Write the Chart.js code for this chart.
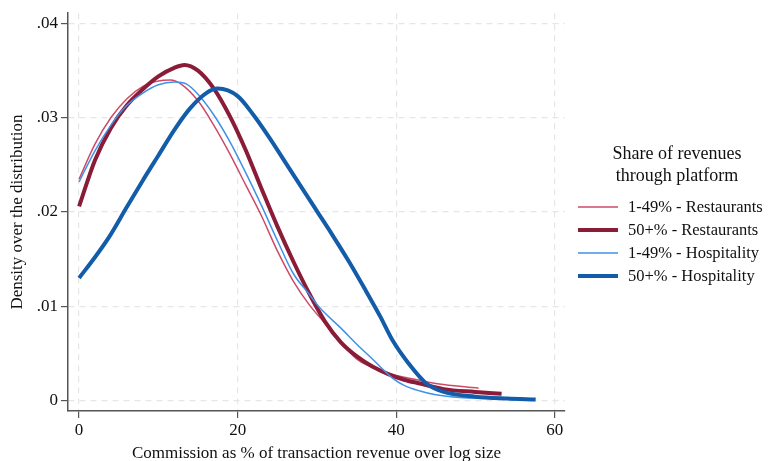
<!DOCTYPE html>
<html>
<head>
<meta charset="utf-8">
<script src="https://cdn.jsdelivr.net/npm/chart.js@4/dist/chart.umd.min.js"></script>
<style>
  html, body { margin: 0; padding: 0; background: #fff; }
  #wrap { width: 769px; height: 461px; }
</style>
</head>
<body>
<div id="wrap"><canvas id="chart" width="769" height="461"></canvas></div>
<script>
// tick labels
const xTicks = [0, 20, 40, 60];
const yTicks = [0, 0.01, 0.02, 0.03, 0.04];

// 1-49% - Restaurants
const restLowX = [0, 2, 4, 6, 8, 10, 11.5, 13, 15, 17, 19, 21, 23, 25, 27, 29, 31, 33, 35, 37, 39, 42, 45, 48, 50.4];
const restLowY = [.0235, .0272, .0300, .0320, .0333, .0339, .0340, .0335, .0318, .0292, .0262, .0229, .0196, .0159, .0127, .0102, .0082, .0062, .0044, .0035, .0029, .0023, .0018, .0015, .0013];

// 50+% - Restaurants
const restHighX = [0, 2, 4, 6, 8, 10, 12, 13.3, 15, 17, 19, 21, 23, 25, 27, 29, 31, 33, 35, 37, 39, 41, 43, 46, 50, 53.3];
const restHighY = [.0206, .0255, .0289, .0313, .0330, .0344, .0353, .0356, .0350, .0331, .0302, .0266, .0225, .0185, .0148, .0114, .0084, .0062, .0047, .0036, .0028, .0022, .0018, .0012, .0009, .0007];

// 1-49% - Hospitality
const hospLowX = [0, 2, 4, 6, 8, 10, 12, 13.5, 15, 17, 19, 21, 23, 25, 27, 29, 30.4, 33, 35, 37, 39.5, 41, 43, 45, 48, 52, 55];
const hospLowY = [.0232, .0265, .0292, .0313, .0326, .0335, .0338, .0336, .0325, .0303, .0275, .0242, .0207, .0170, .0135, .0113, .0098, .0077, .0060, .0044, .0024, .0016, .0010, .0006, .0003, .0002, .0001];

// 50+% - Hospitality
const hospHighX = [0, 2, 3.9, 6, 8, 10, 12, 14, 16, 17.5, 20, 22, 24, 26, 28, 30, 32, 34, 36, 38, 39.6, 41.5, 43.8, 46, 50, 54, 57.6];
const hospHighY = [.0130, .0152, .0175, .0205, .0233, .0260, .0287, .0310, .0326, .0331, .0323, .0303, .0279, .0253, .0227, .0201, .0175, .0148, .0119, .0089, .0063, .0040, .0018, .0009, .0004, .0002, .0001];

const legendTitle = ["Share of revenues", "through platform"];
const xTitle = "Commission as % of transaction revenue over log size";
const yTitle = "Density over the distribution";

const serif = "'Liberation Serif', 'Times New Roman', serif";

function pts(xs, ys) {
  return xs.map((x, i) => ({ x: x, y: ys[i] }));
}

function series(label, xs, ys, color, width, order) {
  return {
    label: label,
    data: pts(xs, ys),
    borderColor: color,
    backgroundColor: color,
    borderWidth: width,
    pointRadius: 0,
    fill: false,
    cubicInterpolationMode: 'monotone',
    order: order
  };
}

// legend drawn by hand, Stata style
const extras = {
  id: 'extras',
  afterDraw(chart) {
    const ctx = chart.ctx;
    ctx.save();
    ctx.fillStyle = '#111';
    ctx.textBaseline = 'middle';

    ctx.font = "18px " + serif;
    ctx.textAlign = 'center';
    ctx.fillText(legendTitle[0], 677, 154);
    ctx.fillText(legendTitle[1], 677, 176);

    ctx.textAlign = 'left';
    ctx.font = "16.5px " + serif;
    const rows = [207, 230, 253, 276];
    chart.data.datasets.forEach((ds, i) => {
      const y = rows[i];
      ctx.strokeStyle = ds.borderColor;
      ctx.lineWidth = ds.borderWidth;
      ctx.beginPath();
      ctx.moveTo(578, y);
      ctx.lineTo(618, y);
      ctx.stroke();
      ctx.fillText(ds.label, 628, y + 1);
    });
    ctx.restore();
  }
};

const gridCommon = {
  color: '#e6e6e6',
  lineWidth: 1.2,
  tickColor: '#555',
  tickLength: 7,
  tickWidth: 1.2,
  tickBorderDash: []
};

new Chart(document.getElementById('chart'), {
  type: 'line',
  data: {
    datasets: [
      series("1-49% - Restaurants", restLowX, restLowY, 'rgb(205,75,105)', 1.5, 4),
      series("50+% - Restaurants", restHighX, restHighY, 'rgb(138,28,56)', 4, 3),
      series("1-49% - Hospitality", hospLowX, hospLowY, 'rgb(64,145,232)', 1.5, 2),
      series("50+% - Hospitality", hospHighX, hospHighY, 'rgb(18,92,170)', 4, 1)
    ]
  },
  options: {
    responsive: false,
    animation: false,
    layout: { padding: { top: 8, right: 204, left: 0, bottom: 0 } },
    plugins: {
      legend: { display: false },
      tooltip: { enabled: false }
    },
    scales: {
      x: {
        type: 'linear',
        min: -1.4,
        max: 61.3,
        afterBuildTicks: s => { s.ticks = xTicks.map(v => ({ value: v })); },
        afterFit: s => { s.height = 50; },
        grid: gridCommon,
        border: { display: true, color: '#555', width: 1.5, dash: [6, 5] },
        title: {
          display: true,
          text: xTitle,
          color: '#111',
          font: { family: serif, size: 17 },
          padding: { top: 0, bottom: -3 }
        },
        ticks: {
          color: '#111',
          font: { family: serif, size: 17 },
          padding: 2,
          maxRotation: 0,
          callback: v => String(v)
        }
      },
      y: {
        type: 'linear',
        min: -0.00112,
        max: 0.0411,
        afterBuildTicks: s => { s.ticks = yTicks.map(v => ({ value: v })); },
        afterFit: s => { s.width = 68; },
        grid: gridCommon,
        border: { display: true, color: '#555', width: 1.5, dash: [6, 5] },
        title: {
          display: true,
          text: yTitle,
          color: '#111',
          font: { family: serif, size: 17 },
          padding: { top: 7, bottom: 0 }
        },
        ticks: {
          color: '#111',
          font: { family: serif, size: 17 },
          padding: 3,
          callback: v => v === 0 ? "0" : String(+v.toFixed(2)).replace(/^0/, "")
        }
      }
    }
  },
  plugins: [extras]
});
</script>
</body>
</html>
